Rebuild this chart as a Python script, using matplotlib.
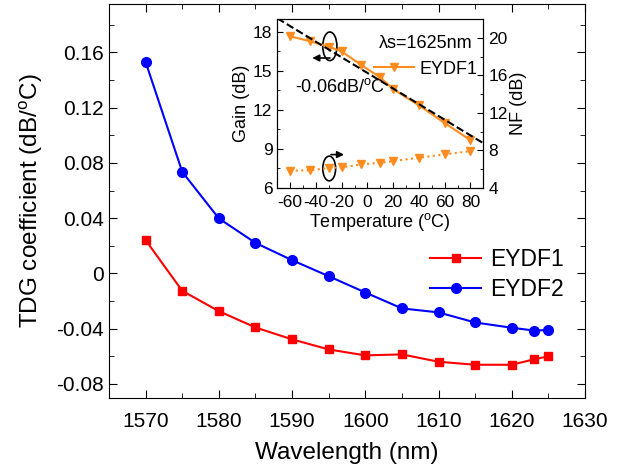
import numpy as np
import matplotlib
matplotlib.use('Agg')
import matplotlib.pyplot as plt
from matplotlib.patches import Ellipse
from matplotlib.ticker import MultipleLocator

plt.rcParams['font.family'] = ['Liberation Sans', 'DejaVu Sans']
plt.rcParams['mathtext.fontset'] = 'custom'
plt.rcParams['mathtext.rm'] = 'Liberation Sans'
plt.rcParams['axes.unicode_minus'] = False

# main data
wl = [1570, 1575, 1580, 1585, 1590, 1595, 1600, 1605, 1610, 1615, 1620, 1623, 1625]
eydf1 = [0.0241, -0.0126, -0.0273, -0.0391, -0.0477, -0.055, -0.0593, -0.0586,
         -0.0639, -0.0661, -0.0661, -0.0622, -0.0600]
eydf2 = [0.153, 0.0735, 0.0398, 0.0221, 0.0096, -0.002, -0.0138, -0.0253,
         -0.0282, -0.0355, -0.0393, -0.0413, -0.041]

# inset data
temp = [-60, -45, -30, -20, -5, 10, 20, 40, 60, 80]
gain = [17.67, 17.3, 16.87, 16.5, 15.48, 14.5, 13.6, 12.36, 11.0, 9.68]
nf = [5.84, 5.88, 6.12, 6.19, 6.51, 6.69, 6.87, 7.22, 7.58, 7.93]
fit_t = [-70, 90]
fit_gain = [19.05, 9.45]

orange = '#FF8C1E'

fig = plt.figure(figsize=(6.32, 4.68), dpi=100)
ax = fig.add_axes([0.1725, 0.150, 0.7531, 0.8415])
ax.plot(wl, eydf1, '-s', color='#FF0000', ms=6.2, lw=1.5, label='EYDF1')
ax.plot(wl, eydf2, '-o', color='#0000FF', ms=7, lw=1.5, label='EYDF2')
ax.set_xlim(1565, 1630)
ax.set_ylim(-0.09, 0.195)
ax.set_xticks(np.arange(1570, 1631, 10))
ax.set_yticks([-0.08, -0.04, 0, 0.04, 0.08, 0.12, 0.16])
ax.set_yticklabels(['-0.08', '-0.04', '0', '0.04', '0.08', '0.12', '0.16'])
ax.xaxis.set_minor_locator(MultipleLocator(5))
ax.yaxis.set_minor_locator(MultipleLocator(0.02))
ax.tick_params(which='both', direction='in', top=True, right=True, labelsize=15)
ax.tick_params(which='major', length=6)
ax.tick_params(which='minor', length=3.5)
ax.tick_params(axis='x', pad=10)
ax.set_xlabel('Wavelength (nm)', fontsize=17.5, labelpad=8)
ax.set_ylabel('TDG coefficient (dB/$^{\\rm o}$C)', fontsize=17.5, labelpad=8)
ax.legend(loc='center left', bbox_to_anchor=(0.675, 0.312), frameon=False,
          fontsize=16.5, handlelength=2.2, handletextpad=0.4, labelspacing=0.3,
          borderpad=0, borderaxespad=0)

# inset
ai = fig.add_axes([0.4388, 0.5983, 0.3259, 0.3611])
ai.plot(temp, gain, '-v', color=orange, ms=6, lw=1.5, label='EYDF1')
ai.plot(fit_t, fit_gain, '--', color='black', lw=1.5)
ai.set_xlim(-70, 90)
ai.set_ylim(6, 19)
ai.set_xticks(np.arange(-60, 81, 20))
ai.set_yticks([6, 9, 12, 15, 18])
ai.xaxis.set_minor_locator(MultipleLocator(10))
ai.yaxis.set_minor_locator(MultipleLocator(1.5))
ai.tick_params(which='both', direction='in', labelsize=12.5)
ai.tick_params(which='major', length=4)
ai.tick_params(which='minor', length=2.5)
ai.tick_params(axis='x', pad=5)
ai.set_xlabel('Temperature ($^{\\rm o}$C)', fontsize=13, labelpad=1)
ai.set_ylabel('Gain (dB)', fontsize=13, labelpad=2)
ai.text(-56, 13.4, '-0.06dB/$^{\\rm o}$C', fontsize=13)
ai.legend(loc='upper right', bbox_to_anchor=(1.005, 0.95), frameon=False,
          fontsize=13, title='λs=1625nm', title_fontsize=13,
          handlelength=2.2, handletextpad=0.3, borderaxespad=0)

ai.add_patch(Ellipse((-29.2, 16.9), 11, 2.2, fill=False, lw=1.2, color='black'))
ai.annotate('', xy=(-45, 16.0), xytext=(-27, 16.0),
            arrowprops=dict(arrowstyle='-|>', color='black', lw=1.2, mutation_scale=10))
ai.add_patch(Ellipse((-29.7, 7.5), 10, 1.9, fill=False, lw=1.2, color='black'))
ai.annotate('', xy=(-16, 8.57), xytext=(-30.5, 8.57),
            arrowprops=dict(arrowstyle='-|>', color='black', lw=1.2, mutation_scale=10))

ar = ai.twinx()
ar.plot(temp, nf, ':v', color=orange, ms=6, lw=1.5)
ar.set_ylim(4, 22)
ar.set_yticks([4, 8, 12, 16, 20])
ar.yaxis.set_minor_locator(MultipleLocator(2))
ar.tick_params(which='both', direction='in', labelsize=12.5)
ar.tick_params(which='major', length=4)
ar.tick_params(which='minor', length=2.5)
ar.set_ylabel('NF (dB)', fontsize=13, labelpad=2)

fig.savefig('out.png', dpi=100)
